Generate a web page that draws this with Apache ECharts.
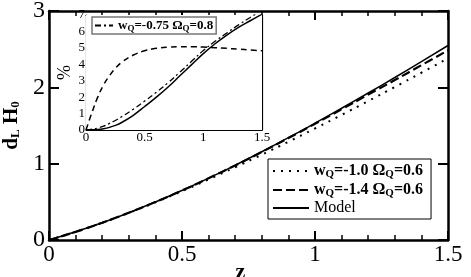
<!DOCTYPE html>
<html><head><meta charset="utf-8">
<script src="https://cdn.jsdelivr.net/npm/echarts@6/dist/echarts.min.js"></script>
<style>html,body{margin:0;padding:0;background:#fff}#c{width:471px;height:277px}</style>
</head><body><div id="c"></div>
<script>
// ---- data ----
var zMain = [0,0.1,0.2,0.3,0.4,0.5,0.6,0.7,0.8,0.9,1.0,1.1,1.2,1.3,1.4,1.5];
var dotW10 = [0,0.107,0.226,0.355,0.494,0.640,0.794,0.953,1.118,1.287,1.461,1.639,1.820,2.004,2.191,2.380];
var dashW14 = [0,0.107,0.226,0.357,0.498,0.648,0.809,0.977,1.153,1.335,1.522,1.712,1.905,2.095,2.290,2.485];
var model = [0,0.107,0.226,0.357,0.498,0.649,0.810,0.979,1.156,1.340,1.530,1.726,1.926,2.129,2.337,2.548];

var zInset = [0,0.05,0.1,0.15,0.2,0.25,0.3,0.4,0.5,0.6,0.7,0.8,0.9,1.0,1.1,1.2,1.3,1.4,1.5];
var insetDash = [0,1.05,2.0,2.75,3.3,3.75,4.1,4.55,4.82,4.97,5.04,5.07,5.07,5.05,5.01,4.97,4.92,4.87,4.82];
var insetSolid = [0,0.01,0.03,0.08,0.16,0.28,0.44,0.88,1.43,2.0,2.62,3.3,3.98,4.65,5.25,5.78,6.25,6.65,7.05];
var insetDashDot = [0,0.05,0.12,0.24,0.4,0.58,0.79,1.25,1.76,2.3,2.88,3.52,4.18,4.84,5.4,5.9,6.4,6.85,7.3];

var mainXTicks = [0,0.5,1,1.5];
var mainYTicks = [0,1,2,3];
var insetYTicks = [0,1,2,3,4,5,6,7];

var legendMain = ['wQ=-1.0 OQ=0.6','wQ=-1.4 OQ=0.6','Model'];
var legendInset = ['wQ=-0.75 OQ=0.8'];

// ---- chart ----
var FF = "'Liberation Serif', 'Times New Roman', serif";
function pairs(xs, ys){ return xs.map(function(x,i){ return [x, ys[i]]; }); }
function richLabel(name){
  if (name === 'Model') return '{n|Model}';
  var m = name.match(/wQ=(\S+) OQ=(\S+)/);
  return '{b|w}{s|Q}{b|=' + m[1] + ' Ω}{s|Q}{b|=' + m[2] + '}';
}
var richMain = {
  b:{fontFamily:FF,fontWeight:'bold',fontSize:16,color:'#000',lineHeight:18},
  s:{fontFamily:FF,fontWeight:'bold',fontSize:11,color:'#000',padding:[7,0,0,0],lineHeight:18},
  n:{fontFamily:FF,fontSize:16,color:'#000',lineHeight:18}
};
var richInset = {
  b:{fontFamily:FF,fontWeight:'bold',fontSize:13,color:'#000',lineHeight:16},
  s:{fontFamily:FF,fontWeight:'bold',fontSize:9,color:'#000',padding:[6,0,0,0],lineHeight:16}
};

function xAx(grid, pos, showLabel, big){
  return {
    type:'value', gridIndex:grid, position:pos, min:0, max:1.5, interval:0.5,
    axisLine:{show:true,onZero:false,lineStyle:{color:'#000',width: big?2.5:1.2}},
    axisTick:{show:true,inside:true,length: big?9:5,lineStyle:{color:'#000',width: big?2:1}},
    minorTick:{show:true,splitNumber:5,length: big?5:3,lineStyle:{color:'#000',width: big?1.5:0.8}},
    axisLabel:{show:showLabel,fontFamily:FF,fontSize: big?23:13,color:'#000',margin: big?3:1,
      formatter:function(v){ return String(v); }},
    splitLine:{show:false}, minorSplitLine:{show:false}
  };
}
function yAx(grid, pos, showLabel, big){
  return {
    type:'value', gridIndex:grid, position:pos, min:0, max: big?3:7, interval:1,
    axisLine:{show:true,onZero:false,lineStyle:{color:'#000',width: big?2.5:1.2}},
    axisTick:{show:true,inside:true,length: big?10:5,lineStyle:{color:'#000',width: big?2:1}},
    minorTick:{show:!big,splitNumber:2,length:3,lineStyle:{color:'#000',width:0.8}},
    axisLabel:{show:showLabel,fontFamily:FF,fontSize: big?24:13,color:'#000',margin: big?4:1},
    splitLine:{show:false}, minorSplitLine:{show:false}
  };
}

var xa0 = xAx(0,'bottom',true,true);
xa0.name = 'z'; xa0.nameLocation='middle'; xa0.nameGap=21; xa0.nameMoveOverlap=false;
xa0.nameTextStyle={fontFamily:FF,fontWeight:'bold',fontSize:22,color:'#000',padding:[0,16,0,0]};
var ya0 = yAx(0,'left',true,true);
ya0.name = '{b|d}{s|L}{b| H}{s|0}'; ya0.nameLocation='middle'; ya0.nameGap=25; ya0.nameRotate=90;
ya0.nameTextStyle={rich:{
  b:{fontFamily:FF,fontWeight:'bold',fontSize:21,color:'#000',lineHeight:22},
  s:{fontFamily:FF,fontWeight:'bold',fontSize:13,color:'#000',padding:[9,0,0,0],lineHeight:22}
}};
var ya2 = yAx(1,'left',true,false);
ya2.name='%'; ya2.nameLocation='middle'; ya2.nameGap=9; ya2.nameRotate=90;
ya2.nameTextStyle={fontFamily:FF,fontSize:18,color:'#000'};

var noSym = {color:'rgba(0,0,0,0)', borderWidth:0, opacity:0};

var option = {
  backgroundColor:'#fff',
  animation:false,
  grid:[
    {left:49,right:23,top:11,bottom:37,containLabel:false,outerBoundsMode:'none'},
    {left:86,right:209,top:15,bottom:147,show:true,backgroundColor:'#fff',borderWidth:0,z:3,containLabel:false,outerBoundsMode:'none'}
  ],
  xAxis:[xa0, xAx(0,'top',false,true), xAx(1,'bottom',true,false), xAx(1,'top',false,false)],
  yAxis:[ya0, yAx(0,'right',false,true), ya2, yAx(1,'right',false,false)],
  legend:[
    {data:legendMain, orient:'vertical', left:268, top:159, itemWidth:36, itemHeight:10, itemGap:1,
     padding:[3,8,3,4], borderColor:'#000', borderWidth:1, backgroundColor:'#fff',
     itemStyle:noSym, formatter:richLabel, textStyle:{rich:richMain}, selectedMode:false},
    {data:legendInset, orient:'vertical', left:92, top:17, itemWidth:18, itemHeight:8,
     padding:[1,3,1,2], borderColor:'#777', borderWidth:1.5, backgroundColor:'#fff',
     itemStyle:noSym, formatter:richLabel, textStyle:{rich:richInset}, selectedMode:false}
  ],
  series:[
    {name:legendMain[0], type:'line', xAxisIndex:0, yAxisIndex:0, data:pairs(zMain,dotW10), showSymbol:false, symbol:'none',
     smooth:true, lineStyle:{color:'#000',width:2,type:[2,6]}, itemStyle:{color:'#000'}},
    {name:legendMain[1], type:'line', xAxisIndex:0, yAxisIndex:0, data:pairs(zMain,dashW14), showSymbol:false, symbol:'none',
     smooth:true, lineStyle:{color:'#000',width:2.2,type:[9,4]}, itemStyle:{color:'#000'}},
    {name:legendMain[2], type:'line', xAxisIndex:0, yAxisIndex:0, data:pairs(zMain,model), showSymbol:false, symbol:'none',
     smooth:true, lineStyle:{color:'#000',width:1.5}, itemStyle:{color:'#000'}},
    {name:'insetDash', type:'line', xAxisIndex:2, yAxisIndex:2, data:pairs(zInset,insetDash), showSymbol:false, symbol:'none',
     smooth:0.4, lineStyle:{color:'#000',width:1.5,type:[6,4]}, z:5},
    {name:'insetSolid', type:'line', xAxisIndex:2, yAxisIndex:2, data:pairs(zInset,insetSolid), showSymbol:false, symbol:'none',
     smooth:0.4, lineStyle:{color:'#000',width:1.5}, z:5},
    {name:legendInset[0], type:'line', xAxisIndex:2, yAxisIndex:2, data:pairs(zInset,insetDashDot), showSymbol:false, symbol:'none',
     smooth:0.4, lineStyle:{color:'#000',width:1.3,type:[6,3,2,3]}, itemStyle:{color:'#000'}, z:5}
  ]
};
var chart = echarts.init(document.getElementById('c'), null, {renderer:'canvas'});
chart.setOption(option);
</script></body></html>
